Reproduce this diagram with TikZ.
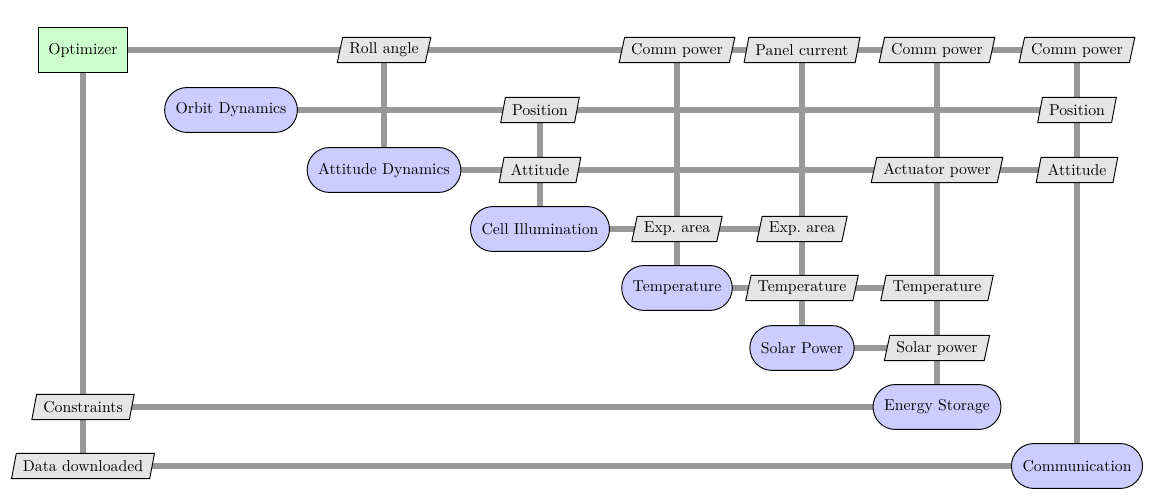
\documentclass[tikz,border=0pt]{standalone}
\usetikzlibrary{shapes.geometric}
\pgfdeclarelayer{background}
\pgfsetlayers{background,main}
\begin{document}
\begin{tikzpicture}[x=0.6345pt,y=-0.6345pt,
  optbox/.style={draw=black,line width=0.6pt,fill=green!20,rectangle,minimum width=57pt,minimum height=29pt,inner xsep=6.5pt},
  funcbox/.style={draw=black,line width=0.6pt,fill=blue!20,rectangle,rounded corners=14.2pt,minimum height=28.5pt,inner xsep=7pt},
  databox/.style={draw=black,line width=0.6pt,fill=black!10,trapezium,trapezium left angle=77,trapezium right angle=103,trapezium stretches=true,inner xsep=4.2pt,inner ysep=3pt,minimum height=16pt},
  flow/.style={draw=black!40,line width=4.3pt}]
\useasboundingbox (0,0) rectangle (1159,498);
% diagonal
\node[optbox]  (opt)    at (83,50)   {Optimizer};
\node[funcbox] (orbit)  at (231,110) {Orbit Dynamics};
\node[funcbox] (att)    at (384,170) {Attitude Dynamics};
\node[funcbox] (cell)   at (540,229) {Cell Illumination};
\node[funcbox] (temp)   at (677,288) {Temperature};
\node[funcbox] (solar)  at (802,348) {Solar Power};
\node[funcbox] (energy) at (937,407) {Energy Storage};
\node[funcbox] (comm)   at (1077,466){Communication};
% data
\node[databox] (d02) at (384,50)  {Roll angle};
\node[databox] (d04) at (677,50)  {Comm power};
\node[databox] (d05) at (802,50)  {Panel current};
\node[databox] (d06) at (937,50)  {Comm power};
\node[databox] (d07) at (1077,50) {Comm power};
\node[databox] (d13) at (540,110) {Position};
\node[databox] (d17) at (1077,110){Position};
\node[databox] (d23) at (540,170) {Attitude};
\node[databox] (d26) at (937,170) {Actuator power};
\node[databox] (d27) at (1077,170){Attitude};
\node[databox] (d34) at (677,229) {Exp.~area};
\node[databox] (d35) at (802,229) {Exp.~area};
\node[databox] (d45) at (802,288) {Temperature};
\node[databox] (d46) at (937,288) {Temperature};
\node[databox] (d56) at (937,348) {Solar power};
\node[databox] (d60) at (83,407)  {Constraints};
\node[databox] (d70) at (83,466)  {Data downloaded};
\begin{pgfonlayer}{background}
% horizontal
\draw[flow] (opt.center) -- (d07.center);
\draw[flow] (orbit.center) -- (d17.center);
\draw[flow] (att.center) -- (d27.center);
\draw[flow] (cell.center) -- (d35.center);
\draw[flow] (temp.center) -- (d46.center);
\draw[flow] (solar.center) -- (d56.center);
\draw[flow] (d60.center) -- (energy.center);
\draw[flow] (d70.center) -- (comm.center);
% vertical
\draw[flow] (opt.center) -- (d70.center);
\draw[flow] (d02.center) -- (att.center);
\draw[flow] (d13.center) -- (cell.center);
\draw[flow] (d04.center) -- (temp.center);
\draw[flow] (d05.center) -- (solar.center);
\draw[flow] (d06.center) -- (energy.center);
\draw[flow] (d07.center) -- (comm.center);
\end{pgfonlayer}
\end{tikzpicture}
\end{document}
